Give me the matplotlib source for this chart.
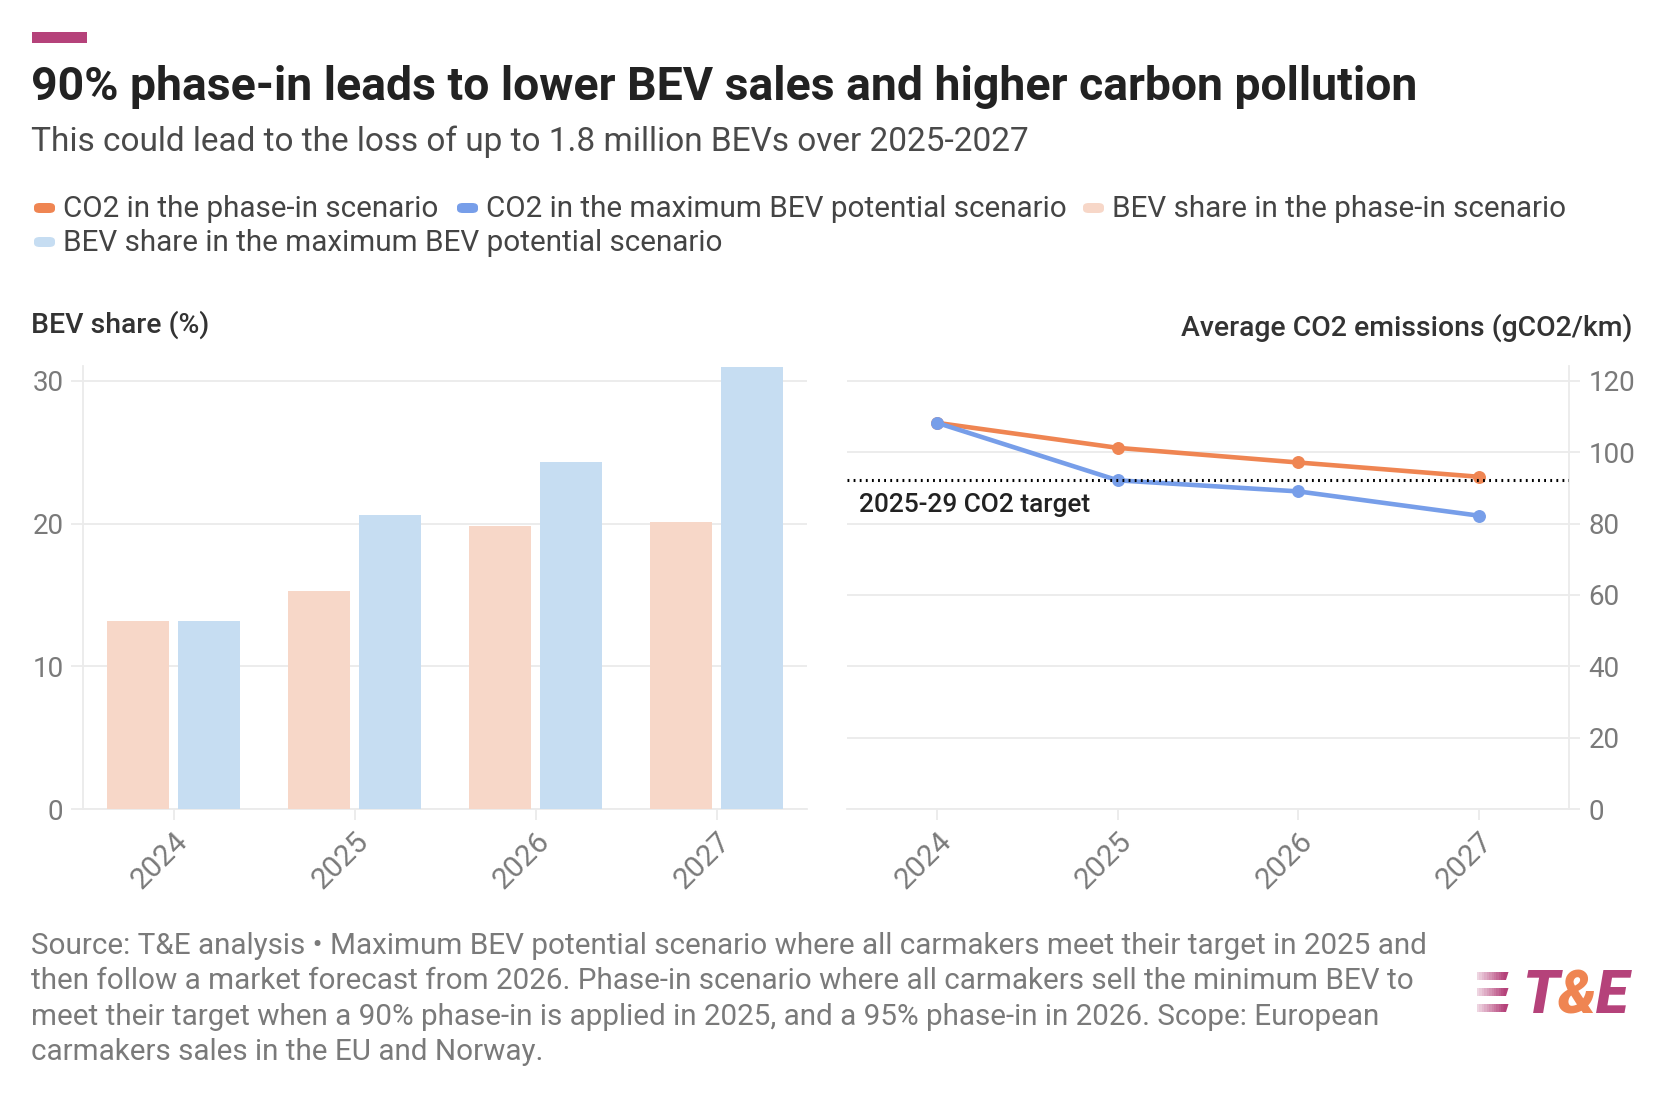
import matplotlib
matplotlib.use('Agg')
import matplotlib.pyplot as plt
from matplotlib.patches import FancyBboxPatch, Rectangle, Polygon
import numpy as np

# ---------------- data ----------------
years = ['2024', '2025', '2026', '2027']
bev_phasein = [13.2, 15.3, 19.8, 20.1]
bev_max = [13.2, 20.6, 24.3, 31.0]
co2_phasein = [108.2, 101.2, 97.1, 93.1]
co2_max = [108.2, 92.1, 89.0, 82.2]
co2_target = 92.3
left_ticks = [0, 10, 20, 30]
right_ticks = [0, 20, 40, 60, 80, 100, 120]

legend_labels = ['CO2 in the phase-in scenario',
                 'CO2 in the maximum BEV potential scenario',
                 'BEV share in the phase-in scenario',
                 'BEV share in the maximum BEV potential scenario']

title = '90% phase-in leads to lower BEV sales and higher carbon pollution'
subtitle = 'This could lead to the loss of up to 1.8 million BEVs over 2025-2027'
footer = ['Source: T&E analysis \u2022 Maximum BEV potential scenario where all carmakers meet their target in 2025 and',
          'then follow a market forecast from 2026. Phase-in scenario where all carmakers sell the minimum BEV to',
          'meet their target when a 90% phase-in is applied in 2025, and a 95% phase-in in 2026. Scope: European',
          'carmakers sales in the EU and Norway.']

# ---------------- style ----------------
C_ORANGE = '#ef8552'
C_BLUE = '#779ee9'
C_PEACH = '#f7d7c8'
C_LBLUE = '#c6ddf2'
C_GRID = '#ebebeb'
C_TICK = '#7a7a7a'
C_DARK = '#333333'
C_MAG = '#b5427a'

plt.rcParams['font.family'] = ['Roboto', 'DejaVu Sans']

W, H = 1670, 1097
fig = plt.figure(figsize=(W / 100, H / 100), dpi=100)


def fx(x):
    return x / W


def fy(y):
    return 1 - y / H


AX_TOP, AX_BOT = 366.5, 809

# ---------------- left: bars ----------------
ax1 = fig.add_axes([fx(83), fy(AX_BOT), (807 - 83) / W, (AX_BOT - AX_TOP) / H])
x = np.arange(len(years))
bw = 0.34
off = 0.195
ax1.bar(x - off, bev_phasein, width=bw, color=C_PEACH, zorder=3)
ax1.bar(x + off, bev_max, width=bw, color=C_LBLUE, zorder=3)
ax1.set_xlim(-0.5, 3.5)
ax1.set_ylim(0, 31)
ax1.set_yticks(left_ticks)
ax1.set_yticklabels([str(t) for t in left_ticks])
ax1.set_xticks(x)
ax1.set_xticklabels(years, rotation=45, ha='right', rotation_mode='anchor')
ax1.grid(axis='y', color=C_GRID, lw=1.3, zorder=0)
for s in ['top', 'right']:
    ax1.spines[s].set_visible(False)
for s in ['left', 'bottom']:
    ax1.spines[s].set_color(C_GRID)
    ax1.spines[s].set_linewidth(1.3)
ax1.tick_params(axis='y', length=9, width=1.3, color=C_GRID, pad=5,
                labelsize=20, labelcolor=C_TICK)
ax1.tick_params(axis='x', length=8, width=1.3, color=C_GRID, pad=5,
                labelsize=21.5, labelcolor=C_TICK)

# ---------------- right: lines ----------------
ax2 = fig.add_axes([fx(847), fy(AX_BOT), (1569 - 847) / W, (AX_BOT - AX_TOP) / H])
ax2.plot(x, co2_phasein, color=C_ORANGE, lw=3.3, marker='o', ms=8.3, zorder=3)
ax2.plot(x, co2_max, color=C_BLUE, lw=3.3, marker='o', ms=8.3, zorder=4)
ax2.axhline(co2_target, color='black', lw=2.2, ls=(0, (0.6, 1.4)), zorder=5)
ax2.set_xlim(-0.5, 3.5)
ax2.set_ylim(0, 124)
ax2.yaxis.tick_right()
ax2.set_yticks(right_ticks)
ax2.set_yticklabels([str(t) for t in right_ticks])
ax2.set_xticks(x)
ax2.set_xticklabels(years, rotation=45, ha='right', rotation_mode='anchor')
ax2.grid(axis='y', color=C_GRID, lw=1.3, zorder=0)
for s in ['top', 'left']:
    ax2.spines[s].set_visible(False)
for s in ['right', 'bottom']:
    ax2.spines[s].set_color(C_GRID)
    ax2.spines[s].set_linewidth(1.3)
ax2.tick_params(axis='y', length=8, width=1.3, color=C_GRID, pad=6,
                labelsize=20, labelcolor=C_TICK)
ax2.tick_params(axis='x', length=8, width=1.3, color=C_GRID, pad=5,
                labelsize=21.5, labelcolor=C_TICK)

fig.text(fx(859), fy(512), '2025-29 CO2 target', fontsize=18.9, fontweight='medium',
         color='#222222', va='baseline', ha='left')

# axis titles
fig.text(fx(31), fy(333), 'BEV share (%)', fontsize=20.4, fontweight='medium',
         color=C_DARK, va='baseline', ha='left')
fig.text(fx(1632), fy(336), 'Average CO2 emissions (gCO2/km)', fontsize=20.4,
         fontweight='medium', color=C_DARK, va='baseline', ha='right')

# ---------------- header ----------------
fig.patches.append(Rectangle((fx(32), fy(43)), fx(87) - fx(32), fy(32) - fy(43),
                             transform=fig.transFigure, color=C_MAG, lw=0))
fig.text(fx(31), fy(100), title, fontsize=33.4, fontweight='bold', color='#222222',
         va='baseline', ha='left')
fig.text(fx(31), fy(151), subtitle, fontsize=24, fontweight='normal', color='#4a4a4a',
         va='baseline', ha='left')

# legend
leg_colors = [C_ORANGE, C_BLUE, C_PEACH, C_LBLUE]
leg_pos = [(32, 217), (455, 217), (1081, 217), (32, 251)]
for (lx, ly), col, lab in zip(leg_pos, leg_colors, legend_labels):
    p = FancyBboxPatch((fx(lx + 2), fy(ly - 4)), fx(21), (13 - 3) / H,
                       boxstyle='round,pad=0.0,rounding_size=0.0035',
                       transform=fig.transFigure, color=col, lw=0)
    fig.patches.append(p)
    fig.text(fx(lx + 31), fy(ly), lab, fontsize=21.3, color='#444444',
             va='baseline', ha='left')

# ---------------- footer ----------------
for i, line in enumerate(footer):
    fig.text(fx(31), fy(954 + 35.3 * i), line, fontsize=21.3, color='#7a7a7a',
             va='baseline', ha='left')

# ---------------- logo ----------------
fig.canvas.draw()
r = fig.canvas.get_renderer()
lx = 1522
for ch, col in [('T', C_MAG), ('&', C_ORANGE), ('E', C_MAG)]:
    t = fig.text(fx(lx), fy(1013), ch, fontsize=43, fontweight='black', style='italic',
                 color=col, va='baseline', ha='left')
    bb = t.get_window_extent(r)
    lx += bb.width - 1
# stripes
for j, (y0, y1) in enumerate([(972, 980), (988, 996), (1004, 1012)]):
    nseg = 12
    x0, x1 = 1477, 1506
    slant = 2.5
    for k in range(nseg):
        a = x0 + (x1 - x0) * k / nseg
        b = x0 + (x1 - x0) * (k + 1) / nseg
        sh = slant * (1 if k == nseg - 1 else 0)
        poly = Polygon([(fx(a), fy(y1)), (fx(b), fy(y1)), (fx(b + sh), fy(y0)), (fx(a), fy(y0))],
                       closed=True, transform=fig.transFigure, color=C_MAG,
                       alpha=0.15 + 0.85 * (k + 1) / nseg, lw=0)
        fig.patches.append(poly)

fig.savefig('out.png', dpi=100, facecolor='white')
